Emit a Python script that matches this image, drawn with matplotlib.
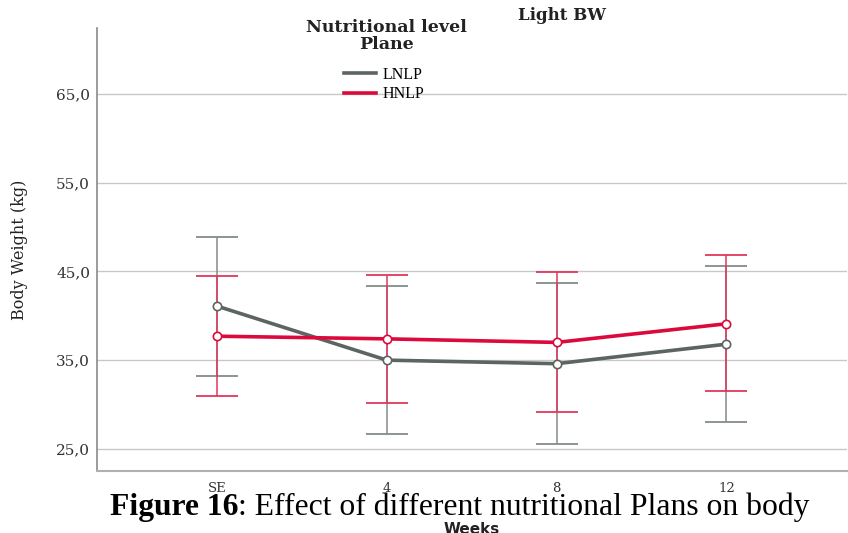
import matplotlib
matplotlib.use("Agg")
import matplotlib.pyplot as plt
from matplotlib.lines import Line2D

# Data: mean body weight with 95% CI bounds per week
weeks = ["SE", "4", "8", "12"]
lnlp_mean = [41.1, 35.0, 34.6, 36.8]
lnlp_low = [33.2, 26.7, 25.6, 28.0]
lnlp_high = [48.9, 43.4, 43.7, 45.6]
hnlp_mean = [37.7, 37.4, 37.0, 39.1]
hnlp_low = [31.0, 30.2, 29.2, 31.5]
hnlp_high = [44.5, 44.6, 44.9, 46.8]
y_ticks = [25, 35, 45, 55, 65]
y_tick_labels = ["25,0", "35,0", "45,0", "55,0", "65,0"]

gray_line = "#5c6561"
gray_err = "#848c88"
red_line = "#dc0a3c"
red_err = "#e0385c"

fig = plt.figure(figsize=(8.48, 5.33), dpi=100)
ax = fig.add_axes([97 / 848, 1 - 471 / 533, 750 / 848, (471 - 28) / 533])

x = list(range(len(weeks)))


def draw_series(mean, low, high, lc, ec):
    yerr = [[m - l for m, l in zip(mean, low)], [h - m for m, h in zip(mean, high)]]
    ax.errorbar(x, mean, yerr=yerr, fmt="none", ecolor=ec, elinewidth=1.1,
                capsize=15, capthick=1.3, zorder=3)
    ax.plot(x, mean, color=lc, lw=2.6, zorder=4, solid_capstyle="round")
    ax.plot(x, mean, "o", ms=6, mfc="white", mec=lc, mew=1.2, zorder=5)


draw_series(lnlp_mean, lnlp_low, lnlp_high, gray_line, gray_err)
draw_series(hnlp_mean, hnlp_low, hnlp_high, red_line, red_err)

ax.set_xlim(-0.706, 3.71)
ax.set_ylim(22.5, 72.45)
ax.set_yticks(y_ticks)
ax.set_yticklabels(y_tick_labels, fontfamily="DejaVu Serif", fontsize=11, color="#333333")
ax.set_xticks(x)
ax.set_xticklabels(weeks, fontfamily="DejaVu Serif", fontsize=9.5, color="#333333")
ax.tick_params(axis="both", length=0, pad=5)
ax.tick_params(axis="x", pad=8)
ax.yaxis.grid(True, color="#c8c8c8", lw=1.0)
ax.set_axisbelow(True)
for s in ["top", "right"]:
    ax.spines[s].set_visible(False)
ax.spines["left"].set_color("#8a8a8a")
ax.spines["bottom"].set_color("#b0b0b0")
ax.spines["left"].set_linewidth(1.2)
ax.spines["bottom"].set_linewidth(1.5)

ax.set_ylabel("Body Weight (kg)", fontfamily="DejaVu Serif", fontsize=11.5,
              labelpad=20, color="#222222")

# Titles and legend
fig.text(562 / 848, 1 - 15 / 533, "Light BW", ha="center", va="center",
         fontfamily="DejaVu Serif", fontweight="bold", fontsize=12, color="#222222")
fig.text(386 / 848, 1 - 36 / 533, "Nutritional level\nPlane", ha="center", va="center",
         fontfamily="DejaVu Serif", fontweight="bold", fontsize=12.5, color="#222222",
         linespacing=1.0)
handles = [Line2D([], [], color=gray_line, lw=2.6), Line2D([], [], color=red_line, lw=2.6)]
leg = fig.legend(handles, ["LNLP", "HNLP"], loc="upper left",
                 bbox_to_anchor=(336 / 848, 1 - 59 / 533), frameon=False,
                 prop={"family": "Liberation Serif", "size": 11.5}, handlelength=2.0,
                 handletextpad=0.4, labelspacing=0.2, borderpad=0)

# x-axis label, partly below the page edge
fig.text(472 / 848, 1 - 529 / 533, "Weeks", ha="center", va="center",
         fontfamily="DejaVu Sans", fontweight="bold", fontsize=11, color="#222222")

# Caption
cap_y = 1 - 507 / 533
t1 = fig.text(110 / 848, cap_y, "Figure 16", ha="left", va="center",
              fontfamily="Liberation Serif", fontweight="bold", fontsize=22.8)
fig.canvas.draw()
bb = t1.get_window_extent()
fig.text(bb.x1 / 848, cap_y, ": Effect of different nutritional Plans on body",
         ha="left", va="center", fontfamily="Liberation Serif", fontsize=22.8)

fig.savefig("out.png", dpi=100)
